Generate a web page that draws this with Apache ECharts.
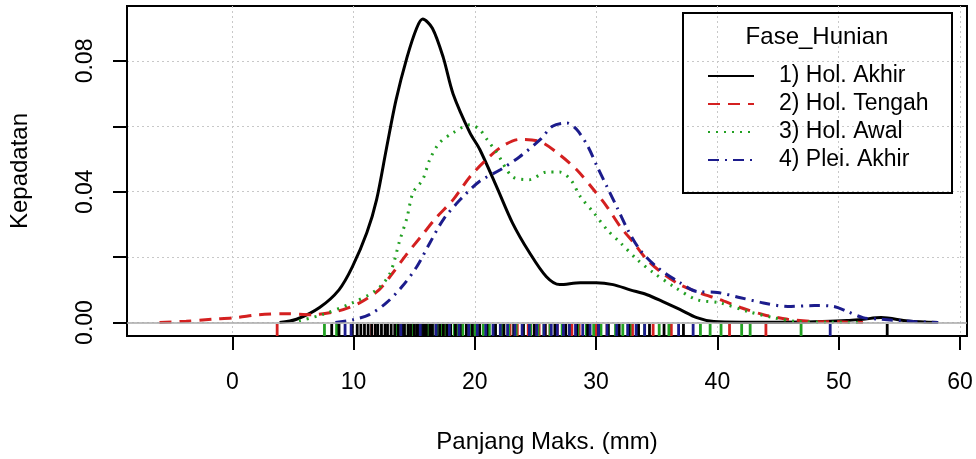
<!DOCTYPE html>
<html>
<head>
<meta charset="utf-8">
<script src="https://cdn.jsdelivr.net/npm/echarts@6/dist/echarts.min.js"></script>
<style>
  html, body { margin: 0; padding: 0; background: #fff; }
  #chart { width: 976px; height: 459px; }
</style>
</head>
<body>
<div id="chart"></div>
<script>
// names of the groups (legend)
const groupNames = ['1) Hol. Akhir', '2) Hol. Tengah', '3) Hol. Awal', '4) Plei. Akhir']
const groupColors = ['#000000', '#d42020', '#22a022', '#1c1c8c']

// density curves (x = mm, y = density)
const akhirX = [3.9, 5.3, 7.2, 8.8, 9.9, 11.1, 11.9, 12.7, 13.5, 14.4, 15.2, 15.7, 16.5, 17.4, 18.2, 19.6, 20.4, 21.8, 23.1, 24.5, 25.9, 27.0, 28.7, 30.0, 31.4, 32.8, 34.2, 35.5, 36.9, 38.3, 39.7, 42, 45, 48, 50.7, 52, 53.5, 55.7, 58.2]
const akhirY = [0, 0.001, 0.0046, 0.010, 0.017, 0.0275, 0.0376, 0.053, 0.068, 0.081, 0.090, 0.0928, 0.090, 0.081, 0.070, 0.058, 0.053, 0.0415, 0.0305, 0.0214, 0.014, 0.0116, 0.0122, 0.0122, 0.0116, 0.010, 0.0085, 0.0064, 0.004, 0.0015, 0.0003, 0.0001, 0.0001, 0.0002, 0.0006, 0.001, 0.0015, 0.0005, 0]

const tengahX = [-6.0, -3.8, -1.7, 0.3, 2.2, 4.5, 6.6, 8.6, 10.5, 12.1, 13.2, 14.4, 15.5, 16.8, 18.2, 19.6, 21.0, 22.3, 23.7, 25.4, 27.0, 28.4, 29.8, 30.9, 32.0, 33.1, 34.2, 35.5, 36.9, 38.6, 40.2, 41.9, 43.8, 45.8, 48.0, 50, 52]
const tengahY = [0, 0.0004, 0.001, 0.0015, 0.0024, 0.0027, 0.0024, 0.0034, 0.006, 0.010, 0.015, 0.021, 0.026, 0.032, 0.0375, 0.0446, 0.050, 0.054, 0.056, 0.0553, 0.0513, 0.0467, 0.0406, 0.0354, 0.0293, 0.0244, 0.0192, 0.015, 0.0116, 0.009, 0.007, 0.0046, 0.0024, 0.001, 0.0003, 0.0002, 0]

const awalX = [5.5, 7.4, 9.9, 11.9, 13.0, 13.8, 14.4, 14.9, 15.7, 16.3, 17.1, 18.2, 19.6, 20.4, 21.0, 21.8, 23.1, 24.5, 25.9, 27.0, 27.9, 28.7, 29.8, 30.9, 32.0, 33.4, 34.7, 36.4, 38.3, 40.2, 42.5, 44.6, 46.6, 49, 52]
const awalY = [0.0005, 0.0024, 0.006, 0.010, 0.015, 0.025, 0.032, 0.0397, 0.0437, 0.050, 0.055, 0.058, 0.0605, 0.059, 0.056, 0.052, 0.0446, 0.0437, 0.046, 0.046, 0.0437, 0.0385, 0.0336, 0.0284, 0.0244, 0.0192, 0.0153, 0.011, 0.007, 0.006, 0.0034, 0.0015, 0.0003, 0.0001, 0]

const pleiX = [8.5, 9.9, 11.3, 12.7, 14.0, 15.2, 16.3, 17.4, 18.8, 20.4, 22.1, 23.7, 25.4, 26.4, 27.6, 28.4, 29.3, 30.1, 30.9, 31.7, 32.6, 33.6, 35.0, 36.9, 38.3, 40.0, 41.9, 43.8, 45.8, 48.0, 49.6, 50.7, 52.0, 53.5, 56.2, 58.2]
const pleiY = [0, 0.0008, 0.0024, 0.006, 0.011, 0.017, 0.0244, 0.0315, 0.0376, 0.0432, 0.0467, 0.0507, 0.056, 0.060, 0.061, 0.059, 0.054, 0.0476, 0.0415, 0.0354, 0.0284, 0.0223, 0.017, 0.0122, 0.0095, 0.0092, 0.0076, 0.006, 0.0049, 0.0052, 0.0049, 0.0034, 0.0015, 0.001, 0.0003, 0]

// rug: single observations along the x axis
const rugAkhir = [8.2, 8.8, 9.9, 10.3, 10.6, 10.9, 11.2, 11.5, 11.8, 12.0, 12.3, 12.6, 12.8, 13.1, 13.4, 13.7, 14.0, 14.2, 14.5, 14.7, 15.0, 15.2, 15.4, 15.6, 15.8, 16.0, 16.3, 16.5, 16.8, 17.1, 17.4, 17.7, 18.0, 18.4, 18.8, 19.3, 19.8, 20.4, 21.0, 21.7, 22.4, 23.2, 24.0, 24.9, 25.8, 26.6, 27.5, 28.4, 29.3, 30.2, 31.0, 31.9, 32.7, 33.5, 34.4, 35.6, 37.2, 54.0]
const rugTengah = [3.7, 11.5, 14.8, 16.4, 17.5, 18.5, 19.4, 20.2, 21.0, 21.7, 22.3, 22.9, 23.5, 24.0, 24.4, 24.9, 25.3, 25.8, 26.2, 26.8, 27.3, 28.0, 28.6, 29.3, 30.0, 30.9, 31.8, 33.0, 34.7, 36.2, 41.0, 44.0]
const rugAwal = [7.6, 8.6, 13.6, 14.1, 14.5, 14.9, 15.3, 15.7, 16.1, 16.5, 16.9, 17.2, 17.6, 18.0, 18.3, 18.6, 19.0, 19.3, 19.6, 20.0, 20.3, 20.7, 21.2, 21.7, 22.2, 22.8, 23.4, 24.0, 24.6, 25.2, 25.7, 26.2, 26.7, 27.2, 27.8, 28.5, 29.2, 29.8, 30.4, 31.0, 31.6, 32.2, 32.8, 33.4, 34.0, 35.2, 36.0, 38.6, 39.4, 40.3, 42.0, 42.7, 46.9]
const rugPlei = [9.3, 9.8, 13.9, 15.5, 16.8, 17.9, 18.7, 19.5, 20.2, 20.9, 21.5, 22.1, 22.7, 23.3, 23.9, 24.5, 25.1, 25.7, 26.3, 26.8, 27.3, 27.8, 28.3, 28.9, 29.5, 30.2, 30.9, 31.7, 32.6, 33.3, 34.0, 36.8, 38.0, 49.3]

// axis ticks
const xTicks = [0, 10, 20, 30, 40, 50, 60]
const yTicks = [0, 0.02, 0.04, 0.06, 0.08]
const yLabels = [0, 0.04, 0.08]

const xMin = -8.68, xMax = 60.58
const yMin = -0.00412, yMax = 0.0968

const font = 'Liberation Sans, Arial, sans-serif'
const chart = echarts.init(document.getElementById('chart'))

function zip(xs, ys) {
    return xs.map((x, i) => [x, ys[i]])
}

const curves = [zip(akhirX, akhirY), zip(tengahX, tengahY), zip(awalX, awalY), zip(pleiX, pleiY)]
const rugs = [rugAkhir, rugTengah, rugAwal, rugPlei]
const dashes = ['solid', [12, 8], [2, 6], [11, 6, 2, 6]]
const rugOrder = [1, 2, 0, 3]

const series = []
rugOrder.forEach(g => {
    series.push({
        type: 'custom',
        silent: true,
        z: 3,
        data: rugs[g].map(v => [v]),
        renderItem: function (params, api) {
            const p = api.coord([api.value(0), yMin])
            return {
                type: 'line',
                shape: { x1: p[0], y1: p[1], x2: p[0], y2: p[1] - 12 },
                style: { stroke: groupColors[g], lineWidth: 2.8 }
            }
        }
    })
})
curves.forEach((c, g) => {
    series.push({
        name: groupNames[g],
        type: 'line',
        data: c,
        smooth: 0.3,
        symbol: 'none',
        z: 4,
        lineStyle: { color: groupColors[g], width: 3, type: dashes[g] },
        itemStyle: { color: groupColors[g] },
        markLine: g === 0 ? {
            silent: true,
            symbol: 'none',
            label: { show: false },
            lineStyle: { color: '#a8a8a8', type: 'solid', width: 1.5 },
            data: [{ yAxis: 0 }]
        } : undefined
    })
})

const option = {
    animation: false,
    grid: {
        left: 127, right: 9, top: 6, bottom: 122,
        show: true, borderColor: '#000', borderWidth: 2
    },
    xAxis: {
        type: 'value', min: xMin, max: xMax,
        name: 'Panjang Maks. (mm)', nameLocation: 'middle', nameGap: 94,
        nameTextStyle: { fontFamily: font, fontSize: 24, color: '#000' },
        axisLine: { show: true, onZero: false, lineStyle: { color: '#000', width: 2 } },
        axisTick: { show: true, length: 14, lineStyle: { color: '#000', width: 2 }, customValues: xTicks },
        axisLabel: { customValues: xTicks, margin: 35, fontFamily: font, fontSize: 23, color: '#000' },
        splitLine: { show: true, lineStyle: { color: '#c8c8c8', type: [2, 3], width: 1 } }
    },
    yAxis: {
        type: 'value', min: yMin, max: yMax,
        name: 'Kepadatan', nameLocation: 'middle', nameGap: 95, nameRotate: 90,
        nameTextStyle: { fontFamily: font, fontSize: 24, color: '#000' },
        axisLine: { show: true, onZero: false, lineStyle: { color: '#000', width: 2 } },
        axisTick: { show: true, length: 14, lineStyle: { color: '#000', width: 2 }, customValues: yTicks },
        axisLabel: {
            customValues: yLabels, rotate: 90, margin: 30,
            fontFamily: font, fontSize: 23, color: '#000',
            formatter: v => v.toFixed(2)
        },
        splitLine: { show: true, lineStyle: { color: '#c8c8c8', type: [2, 3], width: 1 } }
    },
    legend: {
        data: groupNames,
        orient: 'vertical',
        left: 707, top: 64,
        padding: 0,
        itemWidth: 46, itemHeight: 14, itemGap: 4,
        itemStyle: { opacity: 0 },
        lineStyle: { width: 2 },
        textStyle: { fontFamily: font, fontSize: 23, color: '#000', lineHeight: 24, padding: [0, 0, 0, 20] }
    },
    graphic: [
        {
            type: 'rect', z: 10, silent: true,
            shape: { x: 683, y: 13, width: 269, height: 180 },
            style: { fill: 'none', stroke: '#000', lineWidth: 2 }
        },
        {
            type: 'text', z: 10, silent: true,
            x: 817, y: 37,
            style: { text: 'Fase_Hunian', fontFamily: font, fontSize: 24, fill: '#000', align: 'center', verticalAlign: 'middle' }
        }
    ],
    series: series
}
chart.setOption(option)
</script>
</body>
</html>
